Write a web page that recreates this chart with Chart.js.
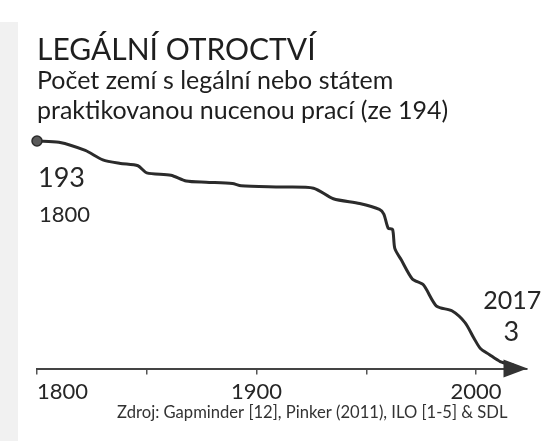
<!DOCTYPE html>
<html>
<head>
<meta charset="utf-8">
<script src="https://cdn.jsdelivr.net/npm/chart.js@4.4.1/dist/chart.umd.min.js"></script>
<style>
  html, body { margin: 0; padding: 0; background: #ffffff; }
  #wrap { position: relative; width: 544px; height: 441px; }
</style>
</head>
<body>
<div id="wrap"><canvas id="c" width="544" height="441"></canvas></div>
<script>
// ---- data ----
const TITLE = 'LEGÁLNÍ OTROCTVÍ';
const SUBTITLE = ['Počet zemí s legální nebo státem', 'praktikovanou nucenou prací (ze 194)'];
const SOURCE = 'Zdroj: Gapminder [12], Pinker (2011), ILO [1-5] & SDL';

const years = [1800, 1810, 1822, 1830, 1838, 1846, 1850, 1861, 1868, 1877, 1889, 1893, 1911, 1926, 1935, 1947, 1956, 1958, 1960, 1962, 1963, 1966, 1971, 1976, 1982, 1989, 1995, 1999, 2002, 2006, 2011, 2017];
const countries = [193, 192, 185, 177, 174, 172, 166, 164, 159, 158, 157, 155, 154, 153, 144, 140, 135, 131, 119, 118, 102, 92, 76, 71, 53, 49, 39, 26, 17, 12, 6, 3];

const tickYears = [1800, 1850, 1900, 1950, 2000];
const labelYears = [1800, 1900, 2000];
const axisStart = 1800;
const axisEnd = 2023;
const valueMin = 0;
const valueMax = 193;

// ---- styling ----
const FONT = 'Lato, "Open Sans", "DejaVu Sans", sans-serif';
const INK = '#262626';

const points = years.map((y, i) => ({ x: y, y: countries[i] }));

const paperPlugin = {
  id: 'paper',
  beforeDraw(chart) {
    const { ctx, width, height } = chart;
    ctx.save();
    ctx.fillStyle = '#ffffff';
    ctx.fillRect(0, 0, width, height);
    ctx.fillStyle = '#f1f1f1';
    ctx.fillRect(0, 22, 18, height - 22);
    ctx.restore();
  }
};

const arrowPlugin = {
  id: 'axisArrow',
  afterDraw(chart) {
    const sx = chart.scales.x;
    const { ctx } = chart;
    const xEnd = sx.getPixelForValue(axisEnd);
    const yAxis = sx.top;
    ctx.save();
    ctx.fillStyle = '#333333';
    ctx.beginPath();
    ctx.moveTo(xEnd + 1, yAxis);
    ctx.lineTo(xEnd - 23, yAxis - 9);
    ctx.lineTo(xEnd - 23, yAxis + 9);
    ctx.closePath();
    ctx.fill();
    ctx.restore();
  }
};

const labelPlugin = {
  id: 'endLabels',
  afterDatasetsDraw(chart) {
    const { ctx, chartArea } = chart;
    const meta = chart.getDatasetMeta(0);
    const first = meta.data[0];
    const last = meta.data[meta.data.length - 1];
    ctx.save();
    ctx.fillStyle = INK;
    ctx.textBaseline = 'alphabetic';
    // start labels
    ctx.textAlign = 'left';
    ctx.font = '27px ' + FONT;
    ctx.fillText(String(countries[0]), first.x + 1, first.y + 46);
    ctx.font = '22px ' + FONT;
    ctx.fillText(String(years[0]), first.x + 2, first.y + 81);
    // end labels
    ctx.textAlign = 'right';
    ctx.font = '25px ' + FONT;
    ctx.fillText(String(years[years.length - 1]), last.x + 28, last.y - 56);
    ctx.textAlign = 'center';
    ctx.font = '27px ' + FONT;
    ctx.fillText(String(countries[countries.length - 1]), last.x - 2, last.y - 24);
    // source note
    ctx.textAlign = 'right';
    ctx.font = '16.6px ' + FONT;
    ctx.fillStyle = '#333333';
    ctx.fillText(SOURCE, chartArea.right - 19, 418);
    ctx.restore();
  }
};

new Chart(document.getElementById('c'), {
  type: 'line',
  data: {
    datasets: [{
      data: points,
      borderColor: '#2b2b2b',
      borderWidth: 3,
      tension: 0.25,
      fill: false,
      clip: false,
      pointRadius: ctx => (ctx.dataIndex === 0 ? 5 : 0),
      pointBackgroundColor: '#5a5a5a',
      pointBorderColor: '#2b2b2b',
      pointBorderWidth: 1.5,
      pointHoverRadius: 0
    }]
  },
  options: {
    responsive: false,
    animation: false,
    devicePixelRatio: 1,
    layout: { padding: { left: 37, right: 17.5, top: 0, bottom: 32 } },
    plugins: {
      legend: { display: false },
      tooltip: { enabled: false },
      title: {
        display: true,
        text: TITLE,
        align: 'start',
        color: '#1e1e1e',
        font: { family: FONT, size: 30, weight: 'normal', lineHeight: 1 },
        padding: { top: 35.5, bottom: 0 }
      },
      subtitle: {
        display: true,
        text: SUBTITLE,
        align: 'start',
        color: '#1e1e1e',
        font: { family: FONT, size: 25, weight: 'normal', lineHeight: 30 / 25 },
        padding: { top: 0, bottom: 15.5 }
      }
    },
    scales: {
      x: {
        type: 'linear',
        min: axisStart,
        max: axisEnd,
        afterBuildTicks: s => { s.ticks = tickYears.concat([axisEnd]).map(v => ({ value: v })); },
        ticks: {
          align: 'inner',
          maxRotation: 0,
          autoSkip: false,
          padding: 4,
          color: INK,
          font: { family: FONT, size: 22 },
          callback: v => (labelYears.includes(v) ? String(v) : '')
        },
        grid: {
          display: true,
          drawOnChartArea: false,
          drawTicks: true,
          tickLength: 6,
          lineWidth: 1.5,
          color: c => (c.tick && c.tick.value === axisEnd ? 'rgba(0,0,0,0)' : '#555555')
        },
        border: { display: true, color: '#444444', width: 2 }
      },
      y: {
        display: false,
        min: valueMin,
        max: valueMax
      }
    }
  },
  plugins: [paperPlugin, arrowPlugin, labelPlugin]
});
</script>
</body>
</html>
